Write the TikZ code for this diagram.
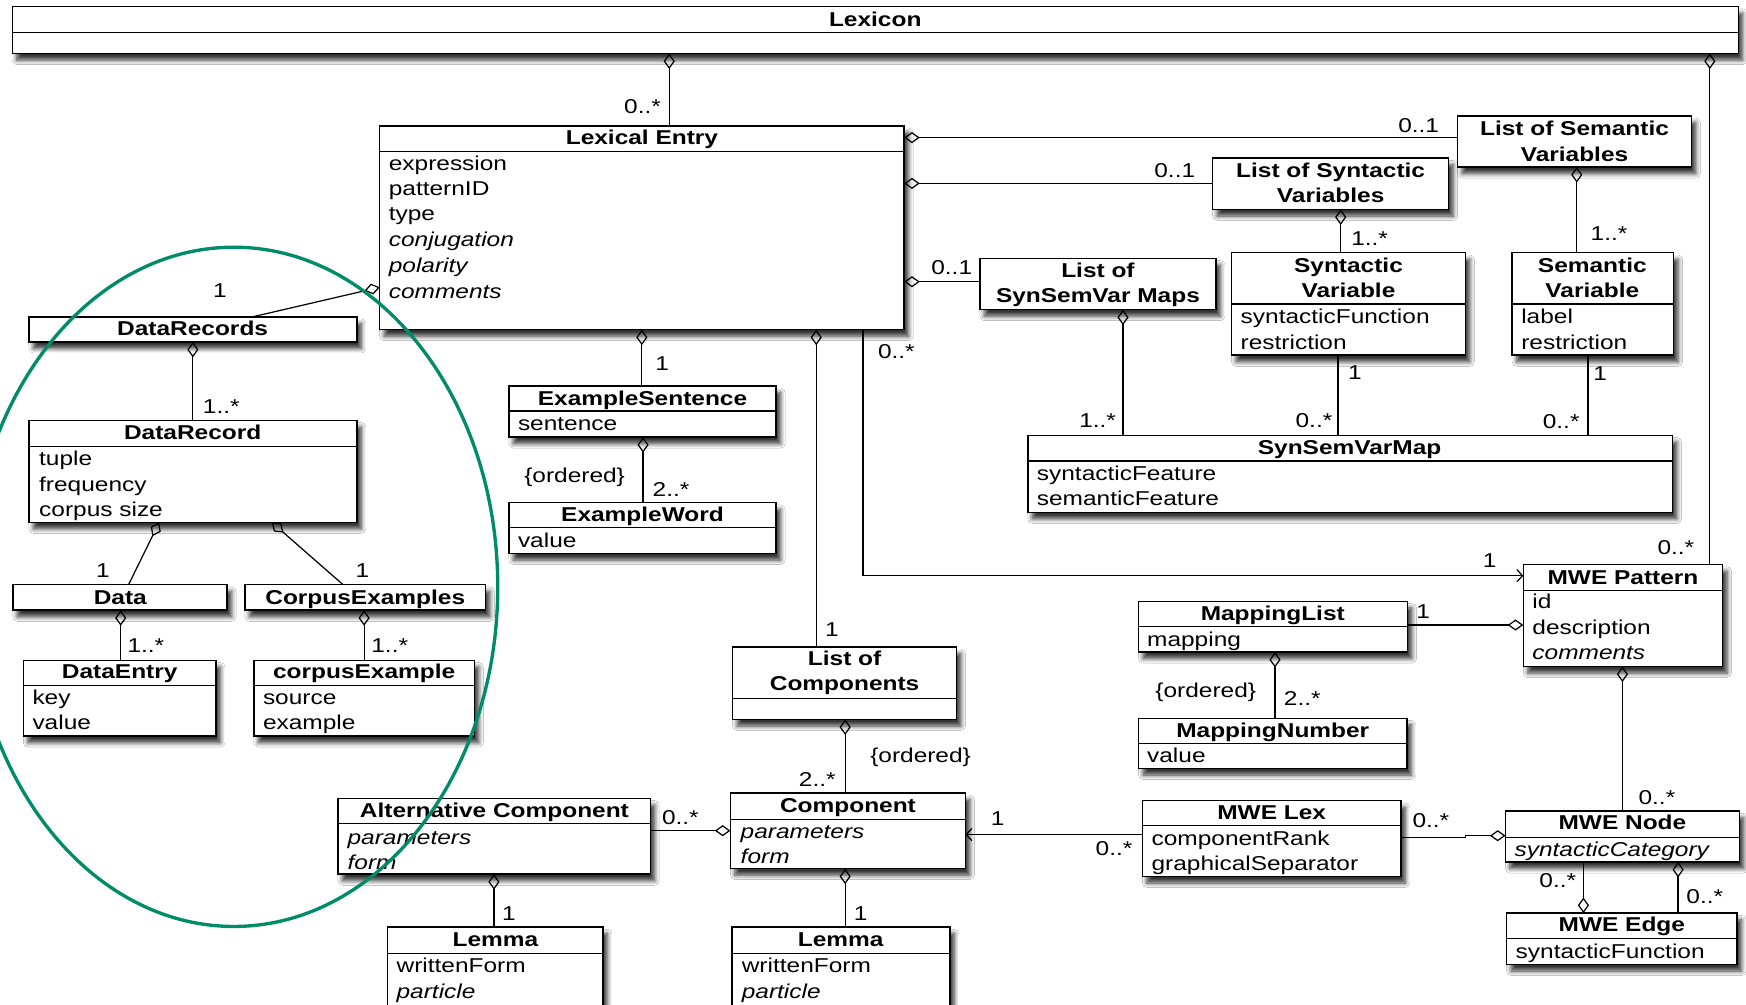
\documentclass[tikz,border=0pt]{standalone}
\usepackage{fontspec}
\setmainfont{Liberation Sans}[FakeStretch=1.22]
\usetikzlibrary{arrows.meta,shadows.blur}
\definecolor{ellgreen}{RGB}{0,140,105}
\tikzset{
  ubox/.style={draw, line width=1.3pt, fill=white, inner sep=0pt, outer sep=0pt, rectangle,
    blur shadow={shadow blur steps=6, shadow xshift=4pt, shadow yshift=-6pt, shadow blur radius=4pt, shadow opacity=80}},
  sepline/.style={line width=1.1pt},
  ttl/.style={font=\fontsize{18}{22}\selectfont\bfseries, anchor=mid, inner sep=0pt, yshift=-4pt},
  attr/.style={anchor=mid west, inner sep=0pt, yshift=-4pt},
  attri/.style={anchor=mid west, inner sep=0pt, yshift=-4pt, font=\fontsize{18}{22}\selectfont\itshape},
  mlt/.style={anchor=mid, inner sep=0pt, yshift=-4pt},
  agg/.style={line width=1.1pt, {Diamond[open, length=14pt, width=10pt, line width=1.1pt]}-},
  nav/.style={line width=1.1pt, -{Straight Barb[length=5pt, width=11pt, line width=1.1pt]}},
  assoc/.style={line width=1.1pt},
}
\newcommand\ubox[5]{\node[ubox, minimum width={(#4-#2)*1pt}, minimum height={(#5-#3)*1pt}] (#1) at ({(#2+#4)/2},{(#3+#5)/2}) {};}
\newcommand\usep[2]{\draw[sepline] (#1.west |- 0,#2) -- (#1.east |- 0,#2);}
\newcommand\utl[4]{\node[ttl] (#1) at (#2,#3) {#4};}
\newcommand\uat[4]{\node[attr] (#1) at (#2,#3) {#4};}
\newcommand\uai[4]{\node[attri] (#1) at (#2,#3) {#4};}
\newcommand\mult[4]{\node[mlt] (#1) at (#2,#3) {#4};}
\begin{document}
\begin{tikzpicture}[x=1pt, y=-1pt, font=\fontsize{18}{22}\selectfont]
\useasboundingbox (0,0) rectangle (1568,902);
\fill[white] (0,0) rectangle (1568,902);
\clip (0,0) rectangle (1568,902);

% ---------- boxes ----------
\ubox{lex}{11}{6}{1561}{48} \usep{lex}{29}
\ubox{le}{341}{113}{812}{296} \usep{le}{136}
\ubox{lsv}{1309}{104}{1519}{150}
\ubox{lsy}{1089}{142}{1301}{188}
\ubox{lsm}{880}{232}{1092}{278}
\ubox{syv}{1106}{227}{1316}{319} \usep{syv}{273}
\ubox{sev}{1358}{227}{1503}{319} \usep{sev}{273}
\ubox{ssm}{923}{391}{1502}{460} \usep{ssm}{414}
\ubox{es}{457}{346.5}{697}{392.5} \usep{es}{369}
\ubox{ew}{457}{451.5}{697}{497} \usep{ew}{474}
\ubox{lc}{658}{581}{859}{646} \usep{lc}{627}
\ubox{co}{656}{712}{867}{780} \usep{co}{736}
\ubox{ac}{303.5}{717}{584}{785} \usep{ac}{739.5}
\ubox{lma}{348}{832.5}{541.5}{915} \usep{lma}{856}
\ubox{lmb}{657.5}{832.5}{853}{915} \usep{lmb}{856}
\ubox{mlx}{1026}{719}{1258}{787} \usep{mlx}{741}
\ubox{mnd}{1352}{728.5}{1562}{774} \usep{mnd}{752}
\ubox{med}{1353}{820}{1560}{866} \usep{med}{843}
\ubox{mpt}{1368}{507}{1547}{598.5} \usep{mpt}{530}
\ubox{mls}{1022.5}{540}{1264}{585.5} \usep{mls}{562.5}
\ubox{mnb}{1022.5}{645}{1263.5}{690} \usep{mnb}{667.5}
\ubox{drs}{26}{284.5}{320.5}{307}
\ubox{dr}{26}{377.5}{320.5}{469} \usep{dr}{401}
\ubox{da}{11.5}{525}{204}{548}
\ubox{ce}{220}{525}{436}{548}
\ubox{de}{21}{593}{194}{661} \usep{de}{615.5}
\ubox{cx}{228}{593}{426}{661} \usep{cx}{615.5}

% ---------- connectors ----------
\draw[agg] (lex.south -| 601,0) -- (le.north -| 601,0);
\draw[agg] (lex.south -| 1535.5,0) -- (mpt.north -| 1535.5,0);
\draw[agg] (le.east |- 0,123.6) -- (lsv.west |- 0,123.6);
\draw[agg] (le.east |- 0,164.7) -- (lsy.west |- 0,164.7);
\draw[agg] (le.east |- 0,253) -- (lsm.west |- 0,253);
\draw[agg] (lsy.south -| 1204,0) -- (syv.north -| 1204,0);
\draw[agg] (lsv.south -| 1416,0) -- (sev.north -| 1416,0);
\draw[agg] (lsm.south -| 1008.5,0) -- (ssm.north -| 1008.5,0);
\draw[assoc] (syv.south -| 1201.6,0) -- (ssm.north -| 1201.6,0);
\draw[assoc] (sev.south -| 1426,0) -- (ssm.north -| 1426,0);
\draw[agg] (le.south -| 576.4,0) -- (es.north -| 576.4,0);
\draw[agg] (le.south -| 733,0) -- (lc.north -| 733,0);
\draw[nav] (le.south -| 775,0) |- (mpt.west |- 0,517);
\draw[agg] (es.south -| 577.5,0) -- (ew.north -| 577.5,0);
\draw[agg] (lc.south -| 759,0) -- (co.north -| 759,0);
\draw[agg] (co.west |- 0,746) -- (ac.east |- 0,746);
\draw[agg] (ac.south -| 443.6,0) -- (lma.north -| 443.6,0);
\draw[agg] (co.south -| 759,0) -- (lmb.north -| 759,0);
\draw[nav] (mlx.west |- 0,749.5) -- (co.east |- 0,749.5);
\draw[agg] (mnd.west |- 0,750.5) -- ++(-36,0) -- ++(0,1.8) -- (mlx.east |- 0,752.3);
\draw[agg] (med.north -| 1422,0) -- (mnd.south -| 1422,0);
\draw[agg] (mnd.south -| 1507,0) -- (med.north -| 1507,0);
\draw[agg] (mpt.south -| 1457,0) -- (mnd.north -| 1457,0);
\draw[agg] (mpt.west |- 0,561.3) -- (mls.east |- 0,561.3);
\draw[agg] (mls.south -| 1145,0) -- (mnb.north -| 1145,0);
\draw[agg] (le.west |- 0,258) -- (drs.north -| 227,0);
\draw[agg] (drs.south -| 173.2,0) -- (dr.north -| 173.2,0);
\draw[agg] (dr.south -| 143,0) -- (da.north -| 115.5,0);
\draw[agg] (dr.south -| 244,0) -- (ce.north -| 308,0);
\draw[agg] (da.south -| 108.4,0) -- (de.north -| 108.4,0);
\draw[agg] (ce.south -| 327,0) -- (cx.north -| 327,0);

% ---------- texts ----------
\utl{lex-t}{786}{17}{Lexicon}
\utl{le-t}{576.5}{123.5}{Lexical Entry}
\uat{le-a1}{349}{146.5}{expression}
\uat{le-a2}{349}{169}{patternID}
\uat{le-a3}{349}{191.5}{type}
\uai{le-a4}{349}{215}{conjugation}
\uai{le-a5}{349}{238.5}{polarity}
\uai{le-a6}{349}{261}{comments}

\utl{lsv-t1}{1414}{115}{List of Semantic}
\utl{lsv-t2}{1414}{138}{Variables}
\utl{lsy-t1}{1195}{153}{List of Syntactic}
\utl{lsy-t2}{1195}{175}{Variables}
\utl{lsm-t1}{986}{242.5}{List of}
\utl{lsm-t2}{986}{265}{SynSemVar Maps}

\utl{syv-t1}{1211}{238}{Syntactic}
\utl{syv-t2}{1211}{260.5}{Variable}
\uat{syv-a1}{1114}{284}{syntacticFunction}
\uat{syv-a2}{1114}{307}{restriction}
\utl{sev-t1}{1430}{238}{Semantic}
\utl{sev-t2}{1430}{260.5}{Variable}
\uat{sev-a1}{1366}{284}{label}
\uat{sev-a2}{1366}{307}{restriction}

\utl{ssm-t}{1212}{401.5}{SynSemVarMap}
\uat{ssm-a1}{931}{424.5}{syntacticFeature}
\uat{ssm-a2}{931}{447}{semanticFeature}

\utl{es-t}{577}{357.5}{ExampleSentence}
\uat{es-a1}{465}{380}{sentence}
\utl{ew-t}{577}{462}{ExampleWord}
\uat{ew-a1}{465}{485}{value}

\utl{lc-t1}{758.5}{591}{List of}
\utl{lc-t2}{758.5}{613.5}{Components}

\utl{co-t}{761.5}{723}{Component}
\uai{co-a1}{665}{746}{parameters}
\uai{co-a2}{665}{769}{form}
\utl{ac-t}{444}{727.5}{Alternative Component}
\uai{ac-a1}{312}{751.5}{parameters}
\uai{ac-a2}{312}{774}{form}

\utl{lma-t}{445}{843.5}{Lemma}
\uat{lma-a1}{356}{866.7}{writtenForm}
\uai{lma-a2}{356}{889.7}{particle}
\utl{lmb-t}{755}{843.5}{Lemma}
\uat{lmb-a1}{666}{866.7}{writtenForm}
\uai{lmb-a2}{666}{889.7}{particle}

\utl{mlx-t}{1142}{729}{MWE Lex}
\uat{mlx-a1}{1034}{752.3}{componentRank}
\uat{mlx-a2}{1034}{775}{graphicalSeparator}
\utl{mnd-t}{1457}{738.5}{MWE Node}
\uai{mnd-a1}{1360}{762.7}{syntacticCategory}
\utl{med-t}{1456.5}{830}{MWE Edge}
\uat{med-a1}{1361}{854}{syntacticFunction}
\utl{mpt-t}{1457.5}{518}{MWE Pattern}
\uat{mpt-a1}{1376}{540}{id}
\uat{mpt-a2}{1376}{563}{description}
\uai{mpt-a3}{1376}{586}{comments}
\utl{mls-t}{1143}{550.5}{MappingList}
\uat{mls-a1}{1030}{574}{mapping}
\utl{mnb-t}{1143}{655.5}{MappingNumber}
\uat{mnb-a1}{1030}{678}{value}

\utl{drs-t}{173}{295}{DataRecords}
\utl{dr-t}{173}{388}{DataRecord}
\uat{dr-a1}{35}{411.5}{tuple}
\uat{dr-a2}{35}{434.7}{frequency}
\uat{dr-a3}{35}{457}{corpus size}
\utl{da-t}{108}{536}{Data}
\utl{ce-t}{328}{536}{CorpusExamples}
\utl{de-t}{107.5}{603}{DataEntry}
\uat{de-a1}{29}{626}{key}
\uat{de-a2}{29}{648.5}{value}
\utl{cx-t}{327}{603}{corpusExample}
\uat{cx-a1}{236}{626}{source}
\uat{cx-a2}{236}{648.5}{example}

% ---------- multiplicities ----------
\mult{m1}{577}{95}{0..*}
\mult{m2}{1505}{491}{0..*}
\mult{m3}{1274}{112}{0..1}
\mult{m4}{1055}{152.7}{0..1}
\mult{m5}{854.7}{239.5}{0..1}
\mult{m6}{1230}{214}{1..*}
\mult{m7}{1445}{209.5}{1..*}
\mult{m8}{985.7}{377}{1..*}
\mult{m9}{1216.7}{334}{1}
\mult{m10}{1180}{377}{0..*}
\mult{m11}{1437}{335}{1}
\mult{m12}{1402}{378}{0..*}
\mult{m13}{594.6}{326}{1}
\mult{m14}{747}{565}{1}
\mult{m15}{805}{315}{0..*}
\mult{m16}{1337.7}{503}{1}
\mult{m17}{516}{426.6}{\{ordered\}}
\mult{m18}{602.6}{439}{2..*}
\mult{m19}{826.7}{678}{\{ordered\}}
\mult{m20}{734}{699.7}{2..*}
\mult{m21}{611}{734}{0..*}
\mult{m22}{457}{820}{1}
\mult{m23}{773}{820}{1}
\mult{m24}{896}{734.6}{1}
\mult{m25}{1000.5}{761.6}{0..*}
\mult{m26}{1285}{736.5}{0..*}
\mult{m27}{1399}{790}{0..*}
\mult{m28}{1531}{804.7}{0..*}
\mult{m29}{1488}{715.5}{0..*}
\mult{m30}{1278}{549}{1}
\mult{m31}{1082.8}{619.7}{\{ordered\}}
\mult{m32}{1169.5}{627}{2..*}
\mult{m33}{197.5}{260.5}{1}
\mult{m34}{198.7}{364.6}{1..*}
\mult{m35}{92.4}{512}{1}
\mult{m36}{325.5}{512}{1}
\mult{m37}{131}{579}{1..*}
\mult{m38}{350}{579}{1..*}

% ---------- green ellipse ----------
\draw[ellgreen, line width=3pt] (210,527) ellipse [x radius=237pt, y radius=305pt];
\end{tikzpicture}
\end{document}
